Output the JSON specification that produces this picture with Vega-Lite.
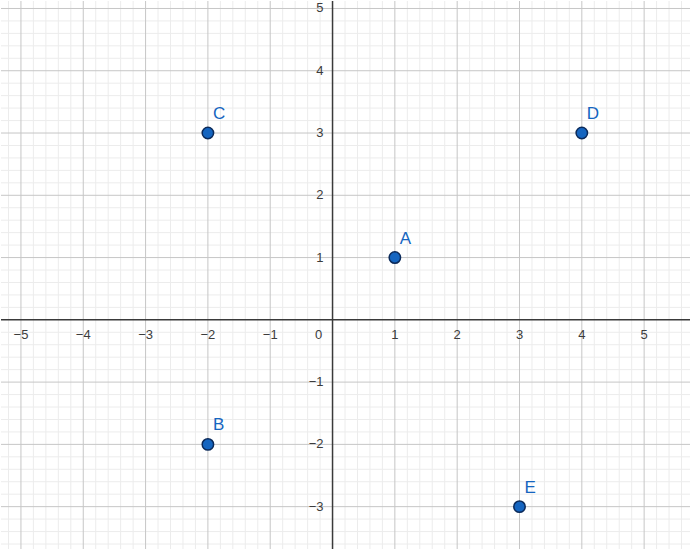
{
  "$schema": "https://vega.github.io/schema/vega-lite/v6.json",
  "width": 691,
  "height": 550,
  "padding": 0,
  "autosize": {"type": "fit", "contains": "padding"},
  "background": "white",
  "config": {"view": {"stroke": null}},
  "datasets": {
    "points": [
      {"name": "A", "x": 1, "y": 1},
      {"name": "B", "x": -2, "y": -2},
      {"name": "C", "x": -2, "y": 3},
      {"name": "D", "x": 4, "y": 3},
      {"name": "E", "x": 3, "y": -3}
    ],
    "xminor": [
      {"v": -5.2}, {"v": -4.8}, {"v": -4.6}, {"v": -4.4}, {"v": -4.2},
      {"v": -3.8}, {"v": -3.6}, {"v": -3.4}, {"v": -3.2},
      {"v": -2.8}, {"v": -2.6}, {"v": -2.4}, {"v": -2.2},
      {"v": -1.8}, {"v": -1.6}, {"v": -1.4}, {"v": -1.2},
      {"v": -0.8}, {"v": -0.6}, {"v": -0.4}, {"v": -0.2},
      {"v": 0.2}, {"v": 0.4}, {"v": 0.6}, {"v": 0.8},
      {"v": 1.2}, {"v": 1.4}, {"v": 1.6}, {"v": 1.8},
      {"v": 2.2}, {"v": 2.4}, {"v": 2.6}, {"v": 2.8},
      {"v": 3.2}, {"v": 3.4}, {"v": 3.6}, {"v": 3.8},
      {"v": 4.2}, {"v": 4.4}, {"v": 4.6}, {"v": 4.8},
      {"v": 5.2}, {"v": 5.4}, {"v": 5.6}
    ],
    "xmajor": [
      {"v": -5}, {"v": -4}, {"v": -3}, {"v": -2}, {"v": -1},
      {"v": 1}, {"v": 2}, {"v": 3}, {"v": 4}, {"v": 5}
    ],
    "yminor": [
      {"v": -3.6}, {"v": -3.4}, {"v": -3.2},
      {"v": -2.8}, {"v": -2.6}, {"v": -2.4}, {"v": -2.2},
      {"v": -1.8}, {"v": -1.6}, {"v": -1.4}, {"v": -1.2},
      {"v": -0.8}, {"v": -0.6}, {"v": -0.4}, {"v": -0.2},
      {"v": 0.2}, {"v": 0.4}, {"v": 0.6}, {"v": 0.8},
      {"v": 1.2}, {"v": 1.4}, {"v": 1.6}, {"v": 1.8},
      {"v": 2.2}, {"v": 2.4}, {"v": 2.6}, {"v": 2.8},
      {"v": 3.2}, {"v": 3.4}, {"v": 3.6}, {"v": 3.8},
      {"v": 4.2}, {"v": 4.4}, {"v": 4.6}, {"v": 4.8}
    ],
    "ymajor": [
      {"v": -3}, {"v": -2}, {"v": -1},
      {"v": 1}, {"v": 2}, {"v": 3}, {"v": 4}, {"v": 5}
    ],
    "xlabels": [
      {"v": -5, "label": "−5"},
      {"v": -4, "label": "−4"},
      {"v": -3, "label": "−3"},
      {"v": -2, "label": "−2"},
      {"v": -1, "label": "−1"},
      {"v": 1, "label": "1"},
      {"v": 2, "label": "2"},
      {"v": 3, "label": "3"},
      {"v": 4, "label": "4"},
      {"v": 5, "label": "5"}
    ],
    "ylabels": [
      {"v": -3, "label": "−3"},
      {"v": -2, "label": "−2"},
      {"v": -1, "label": "−1"},
      {"v": 1, "label": "1"},
      {"v": 2, "label": "2"},
      {"v": 3, "label": "3"},
      {"v": 4, "label": "4"},
      {"v": 5, "label": "5"}
    ],
    "origin": [{"v": 0, "label": "0"}]
  },
  "layer": [
    {
      "data": {"name": "xminor"},
      "mark": {"type": "rule", "color": "#ececec", "strokeWidth": 1},
      "encoding": {
        "x": {
          "field": "v", "type": "quantitative",
          "scale": {"domain": [-5.32, 5.736], "nice": false, "zero": false},
          "axis": null
        }
      }
    },
    {
      "data": {"name": "yminor"},
      "mark": {"type": "rule", "color": "#ececec", "strokeWidth": 1},
      "encoding": {
        "y": {
          "field": "v", "type": "quantitative",
          "scale": {"domain": [-3.68, 5.12], "nice": false, "zero": false},
          "axis": null
        }
      }
    },
    {
      "data": {"name": "xmajor"},
      "mark": {"type": "rule", "color": "#c6c6c6", "strokeWidth": 1},
      "encoding": {"x": {"field": "v", "type": "quantitative"}}
    },
    {
      "data": {"name": "ymajor"},
      "mark": {"type": "rule", "color": "#c6c6c6", "strokeWidth": 1},
      "encoding": {"y": {"field": "v", "type": "quantitative"}}
    },
    {
      "data": {"name": "origin"},
      "mark": {"type": "rule", "color": "#3a3a3a", "strokeWidth": 1.5},
      "encoding": {"x": {"field": "v", "type": "quantitative"}}
    },
    {
      "data": {"name": "origin"},
      "mark": {"type": "rule", "color": "#3a3a3a", "strokeWidth": 1.5},
      "encoding": {"y": {"field": "v", "type": "quantitative"}}
    },
    {
      "data": {"name": "xlabels"},
      "mark": {"type": "text", "align": "center", "baseline": "middle", "dy": 15, "fontSize": 13, "font": "Liberation Sans", "color": "#3c3c3c"},
      "encoding": {
        "x": {"field": "v", "type": "quantitative"},
        "y": {"datum": 0},
        "text": {"field": "label"}
      }
    },
    {
      "data": {"name": "ylabels"},
      "mark": {"type": "text", "align": "right", "baseline": "middle", "dx": -9, "fontSize": 13, "font": "Liberation Sans", "color": "#3c3c3c"},
      "encoding": {
        "x": {"datum": 0},
        "y": {"field": "v", "type": "quantitative"},
        "text": {"field": "label"}
      }
    },
    {
      "data": {"name": "origin"},
      "mark": {"type": "text", "align": "center", "baseline": "middle", "dx": -14, "dy": 15, "fontSize": 13, "font": "Liberation Sans", "color": "#3c3c3c"},
      "encoding": {
        "x": {"field": "v", "type": "quantitative"},
        "y": {"field": "v", "type": "quantitative"},
        "text": {"field": "label"}
      }
    },
    {
      "data": {"name": "points"},
      "mark": {"type": "point", "shape": "circle", "filled": true, "size": 130, "fill": "#1565c0", "stroke": "#0b2a5a", "strokeWidth": 1.5, "opacity": 1},
      "encoding": {
        "x": {"field": "x", "type": "quantitative"},
        "y": {"field": "y", "type": "quantitative"}
      }
    },
    {
      "data": {"name": "points"},
      "mark": {"type": "text", "align": "left", "baseline": "middle", "dx": 5, "dy": -19, "fontSize": 17, "font": "Liberation Sans", "color": "#1565c0"},
      "encoding": {
        "x": {"field": "x", "type": "quantitative"},
        "y": {"field": "y", "type": "quantitative"},
        "text": {"field": "name"}
      }
    }
  ]
}
